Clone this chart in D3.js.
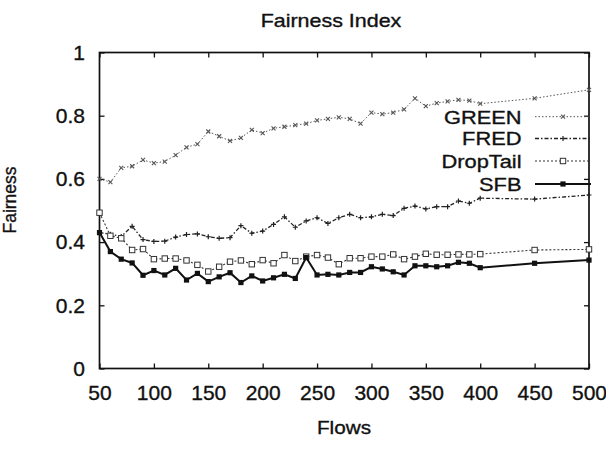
<!DOCTYPE html>
<html><head><meta charset="utf-8">
<script src="https://cdn.jsdelivr.net/npm/d3@7"></script>
<style>body{margin:0;background:#fff}svg{display:block}text{font-family:"Liberation Sans",Arial,sans-serif;fill:#111;stroke:#111;stroke-width:0.35px}</style>
</head><body><svg id="c" width="606" height="452"></svg>
<script>
const flows = [50,60,70,80,90,100,110,120,130,140,150,160,170,180,190,200,210,220,230,240,250,260,270,280,290,300,310,320,330,340,350,360,370,380,390,400,450,500];
const green = [0.60,0.59,0.635,0.64,0.66,0.65,0.655,0.675,0.70,0.71,0.75,0.735,0.72,0.73,0.755,0.745,0.76,0.765,0.77,0.775,0.785,0.79,0.795,0.79,0.775,0.81,0.805,0.81,0.82,0.855,0.83,0.84,0.845,0.85,0.848,0.838,0.855,0.882];
const fred = [0.43,0.425,0.418,0.45,0.408,0.402,0.403,0.416,0.424,0.426,0.417,0.412,0.414,0.452,0.428,0.435,0.456,0.48,0.447,0.467,0.477,0.459,0.477,0.488,0.477,0.48,0.488,0.484,0.507,0.514,0.505,0.512,0.512,0.53,0.523,0.539,0.536,0.549];
const droptail = [0.493,0.42,0.412,0.375,0.378,0.346,0.348,0.348,0.342,0.328,0.307,0.322,0.338,0.342,0.33,0.343,0.333,0.359,0.34,0.354,0.359,0.351,0.33,0.349,0.349,0.354,0.354,0.361,0.346,0.354,0.363,0.36,0.36,0.361,0.361,0.362,0.375,0.377];
const sfb = [0.43,0.37,0.346,0.334,0.295,0.31,0.296,0.317,0.28,0.301,0.275,0.29,0.303,0.272,0.293,0.277,0.287,0.298,0.285,0.351,0.296,0.298,0.296,0.304,0.304,0.322,0.315,0.306,0.296,0.325,0.325,0.322,0.325,0.336,0.333,0.319,0.333,0.343];
const xTicks = [50,100,150,200,250,300,350,400,450,500];
const yTicks = [0,0.2,0.4,0.6,0.8,1];
const seriesNames = ["GREEN","FRED","DropTail","SFB"];

const svg = d3.select("#c");
const L=99.5,R=589,T=52.5,B=368.5;
const x = d3.scaleLinear().domain([50,500]).range([L,R]);
const y = d3.scaleLinear().domain([0,1]).range([B,T]);

// frame
svg.append("rect").attr("x",L).attr("y",T).attr("width",R-L).attr("height",B-T)
  .attr("fill","none").attr("stroke","#111").attr("stroke-width",1.7);

// axes
const ax = svg.append("g").attr("transform",`translate(0,${B})`)
  .call(d3.axisBottom(x).tickValues(xTicks).tickSizeInner(-5).tickSizeOuter(0).tickPadding(16.5).tickFormat(d3.format("d")));
const ay = svg.append("g").attr("transform",`translate(${L},0)`)
  .call(d3.axisLeft(y).tickValues(yTicks).tickSizeInner(-5).tickSizeOuter(0).tickPadding(14.5).tickFormat(d=>String(d)));
const axT = svg.append("g").attr("transform",`translate(0,${T})`)
  .call(d3.axisTop(x).tickValues(xTicks).tickSizeInner(-5).tickSizeOuter(0).tickFormat(""));
const axR = svg.append("g").attr("transform",`translate(${R},0)`)
  .call(d3.axisRight(y).tickValues(yTicks).tickSizeInner(-5).tickSizeOuter(0).tickFormat(""));
[ax,ay,axT,axR].forEach(g=>{g.select(".domain").remove();g.selectAll("line").attr("stroke","#111").attr("stroke-width",1.3);
  g.selectAll("text").attr("font-size",21).attr("fill","#111").attr("font-family","Liberation Sans, Arial, sans-serif");});

// series
const styles = [
  {data:green, color:"#555", width:1, dash:"1.5,2", marker:"x"},
  {data:fred, color:"#222", width:1.3, dash:"4,2,1.5,2", marker:"+"},
  {data:droptail, color:"#333", width:1.1, dash:"2,2", marker:"box"},
  {data:sfb, color:"#111", width:2, dash:null, marker:"fbox"}
];
const line = d3.line().x(d=>x(d[0])).y(d=>y(d[1]));
function drawMarker(g, type, px, py, color){
  if(type==="x"){
    g.append("path").attr("d",`M${px-2},${py-2}L${px+2},${py+2}M${px-2},${py+2}L${px+2},${py-2}`).attr("stroke",color).attr("stroke-width",1.1);
  } else if(type==="+"){
    g.append("path").attr("d",`M${px-2.5},${py}L${px+2.5},${py}M${px},${py-2.5}L${px},${py+2.5}`).attr("stroke",color).attr("stroke-width",1.2);
  } else if(type==="box"){
    g.append("rect").attr("x",px-2.7).attr("y",py-2.7).attr("width",5.4).attr("height",5.4).attr("fill","#fff").attr("stroke",color).attr("stroke-width",1);
  } else {
    g.append("rect").attr("x",px-2.6).attr("y",py-2.6).attr("width",5.2).attr("height",5.2).attr("fill",color);
  }
}
styles.forEach(s=>{
  const pts = flows.map((f,i)=>[f,s.data[i]]);
  const g = svg.append("g");
  g.append("path").attr("d",line(pts)).attr("fill","none").attr("stroke",s.color)
    .attr("stroke-width",s.width).attr("stroke-dasharray",s.dash);
  pts.forEach(p=>drawMarker(g,s.marker,x(p[0]),y(p[1]),s.color));
});

// legend
const legY = [116.7,138.5,161,184];
seriesNames.forEach((n,i)=>{
  const s = styles[i];
  const ly = legY[i];
  svg.append("text").attr("text-anchor","end").attr("font-size",18.5)
    .attr("transform",`translate(521.5,${ly+6.8}) scale(1.18,1)`).text(n);
  svg.append("line").attr("x1",535).attr("x2",591).attr("y1",ly).attr("y2",ly)
    .attr("stroke",s.color).attr("stroke-width",s.width).attr("stroke-dasharray",s.dash);
  drawMarker(svg,s.marker,563,ly,s.color);
});

// title & labels
svg.append("text").attr("text-anchor","middle").attr("font-size",18.5)
  .attr("transform","translate(331,26.5) scale(1.16,1)").text("Fairness Index");
svg.append("text").attr("text-anchor","middle").attr("font-size",18.5)
  .attr("transform","translate(344,434) scale(1.12,1)").text("Flows");
svg.append("text").attr("text-anchor","middle").attr("font-size",17.5)
  .attr("transform","translate(15.5,200) rotate(-90)").text("Fairness");
</script></body></html>
